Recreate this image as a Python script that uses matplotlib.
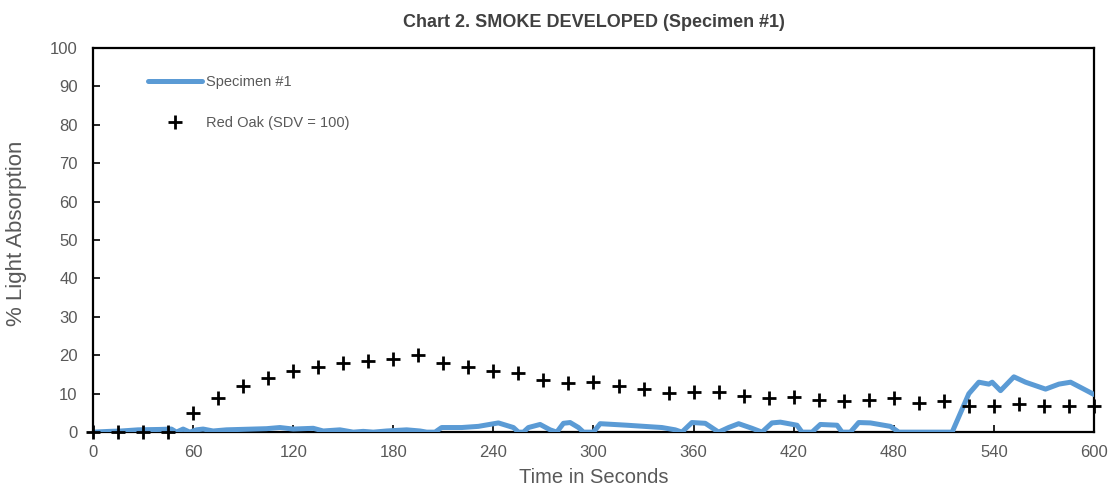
import matplotlib as mpl
mpl.use('Agg')
import matplotlib.pyplot as plt
import numpy as np

plt.rcParams['font.family'] = ['Liberation Sans', 'DejaVu Sans']

# Specimen #1 smoke curve (time s, % light absorption)
spec_t = [0, 10, 17, 27, 40, 47, 50, 54, 58, 62, 66, 72, 80, 96, 104, 112, 120,
          132, 138, 148, 156, 162, 168, 176, 188, 196, 200, 205, 209, 221, 231,
          243, 252, 255, 258, 261, 268, 274, 278, 282, 286, 291, 294, 300, 304,
          320, 341, 349, 353, 359, 367, 375, 381, 387, 395, 401, 407, 412, 422,
          425, 431, 436, 446, 449, 454, 459, 466, 478, 483, 515, 519, 525, 531,
          537, 539, 544, 552, 559, 571, 579, 586, 597, 600]
spec_v = [0, 0.2, 0.3, 0.6, 0.7, 0.8, 0, 0.8, 0, 0.6, 0.8, 0.3, 0.6, 0.8, 0.9,
          1.2, 0.8, 1.0, 0.3, 0.6, 0, 0.2, 0, 0.3, 0.6, 0.3, 0, 0, 1.2, 1.2,
          1.5, 2.4, 1.2, 0, 0, 1.2, 2.0, 0.6, 0, 2.3, 2.5, 1.2, 0, 0, 2.2, 1.8,
          1.2, 0.6, 0, 2.5, 2.3, 0, 1.2, 2.2, 1.0, 0, 2.4, 2.6, 1.8, 0, 0, 2.0,
          1.8, 0, 0, 2.5, 2.4, 1.5, 0, 0, 4, 10, 13, 12.5, 13, 10.8, 14.4, 13,
          11.2, 12.5, 13, 10.5, 9.8]

# Red Oak reference points, every 15 s
oak_t = list(range(0, 601, 15))
oak_v = [0, 0, 0, 0, 5, 9, 12, 14, 16, 17, 18, 18.5, 19, 20, 18, 17, 16, 15.5,
         13.5, 12.8, 13, 12, 11.2, 10.2, 10.5, 10.5, 9.4, 9, 9.2, 8.4, 8.2, 8.4,
         8.8, 7.6, 8, 6.9, 6.9, 7.3, 6.8, 6.8, 6.8]

x_ticks = list(range(0, 601, 60))
y_ticks = list(range(0, 101, 10))

grey = '#595959'

fig = plt.figure(figsize=(11.14, 4.95), dpi=100)
ax = fig.add_axes([0.0835, 0.127, 0.8985, 0.776])

ax.plot(spec_t, spec_v, color='#5B9BD5', lw=3.6, label='Specimen #1', zorder=3,
        solid_joinstyle='round', solid_capstyle='round')
ax.plot(oak_t, oak_v, ls='none', marker='+', ms=10, mew=2, color='black',
        label='Red Oak (SDV = 100)', zorder=4, clip_on=False)

ax.set_xlim(0, 600)
ax.set_ylim(0, 100)
ax.set_xticks(x_ticks)
ax.set_yticks(y_ticks)
ax.tick_params(axis='both', direction='in', length=5, width=1.2, color='black',
               labelsize=12, labelcolor=grey)
ax.tick_params(axis='y', pad=11)
ax.tick_params(axis='x', pad=9)
for s in ax.spines.values():
    s.set_linewidth(1.6)
    s.set_color('black')

ax.set_xlabel('Time in Seconds', fontsize=14.5, color=grey, labelpad=6)
ax.set_ylabel('% Light Absorption', fontsize=16, color=grey)
ax.yaxis.set_label_coords(-0.066, 0.518)
ax.set_title('Chart 2. SMOKE DEVELOPED (Specimen #1)', fontsize=13,
             fontweight='bold', color='#404040', pad=15)

leg = ax.legend(loc='upper left', bbox_to_anchor=(0.055, 0.93), frameon=False,
                fontsize=10.5, handlelength=3.7, handletextpad=0.3,
                labelspacing=1.85, borderaxespad=0, borderpad=0)
for t in leg.get_texts():
    t.set_color(grey)

plt.savefig('out.png', dpi=100)
